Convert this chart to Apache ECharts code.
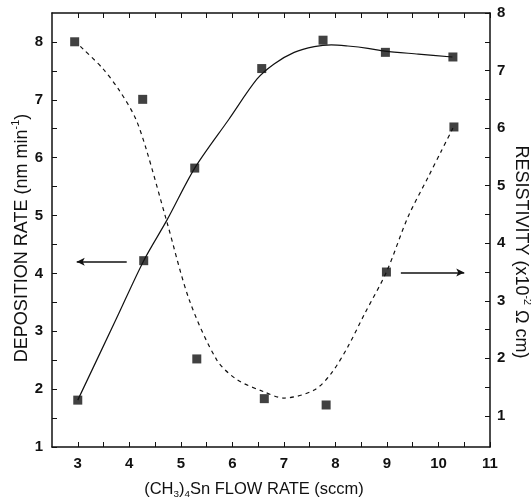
<!DOCTYPE html>
<html>
<head>
<meta charset="utf-8">
<script src="https://cdn.jsdelivr.net/npm/echarts@6/dist/echarts.min.js"></script>
<style>
  html, body { margin: 0; padding: 0; background: #fff; }
  #main { width: 531px; height: 500px; }
</style>
</head>
<body>
<div id="main"></div>
<script>
// measured points
let flowRate = [3.0, 4.28, 5.27, 6.57, 7.76, 8.97, 10.28]
let depositionRate = [1.81, 4.22, 5.82, 7.54, 8.03, 7.82, 7.74]

let flowRateRes = [2.94, 4.26, 5.31, 6.62, 7.82, 8.99, 10.3]
let resistivity = [7.5, 6.5, 1.99, 1.3, 1.19, 3.5, 6.02]

// fitted curves
let depFitX = [3.0, 3.75, 4.28, 4.73, 5.27, 5.93, 6.48, 6.81, 7.2, 7.59, 7.92, 8.24, 8.63, 8.96, 9.61, 10.27]
let depFitY = [1.81, 3.22, 4.22, 4.92, 5.82, 6.66, 7.36, 7.62, 7.82, 7.92, 7.95, 7.93, 7.89, 7.84, 7.79, 7.74]

let resFitX = [3.05, 3.49, 3.81, 4.11, 4.32, 4.73, 5.17, 5.7, 6.09, 6.61, 7.0, 7.59, 7.92, 8.24, 8.57, 8.99, 9.41, 9.8, 10.06, 10.28]
let resFitY = [7.42, 7.03, 6.65, 6.19, 5.66, 4.37, 3.0, 1.97, 1.63, 1.42, 1.31, 1.45, 1.74, 2.2, 2.78, 3.5, 4.46, 5.15, 5.61, 6.0]

// ticks
let xLabels = [3, 4, 5, 6, 7, 8, 9, 10, 11]
let xTicks = [3, 3.5, 4, 4.5, 5, 5.5, 6, 6.5, 7, 7.5, 8, 8.5, 9, 9.5, 10, 10.5, 11]
let yLabels = [1, 2, 3, 4, 5, 6, 7, 8]
let yTicks = [1, 1.5, 2, 2.5, 3, 3.5, 4, 4.5, 5, 5.5, 6, 6.5, 7, 7.5, 8]

const zip = (xs, ys) => xs.map((x, i) => [x, ys[i]])

let myChart = echarts.init(document.getElementById('main'))

const ink = '#111'
const font = 'Liberation Sans'
const rich = (size) => ({
    a: { fontSize: size, fontFamily: font, color: ink, lineHeight: size + 4 },
    s: { fontSize: size * 0.6, fontFamily: font, color: ink, lineHeight: size * 0.6, verticalAlign: 'top' },
    b: { fontSize: size * 0.6, fontFamily: font, color: ink, lineHeight: size * 0.6, verticalAlign: 'bottom' }
})
const tickLabel = { color: ink, fontSize: 15, fontWeight: 'bold', fontFamily: "'Liberation Sans Narrow', 'Liberation Sans', sans-serif" }

function axis(position, min, max, ticks, labels, margin) {
    return {
        type: 'value', position: position, min: min, max: max,
        axisLine: { show: true, lineStyle: { color: ink, width: 1.5 } },
        axisTick: { show: true, inside: true, length: 5, customValues: ticks, lineStyle: { color: ink, width: 1 } },
        axisLabel: labels ? Object.assign({ customValues: labels, margin: margin }, tickLabel) : { show: false },
        splitLine: { show: false }
    }
}

let xs = [
    axis('bottom', 2.5, 11, xTicks, xLabels, 9),
    axis('top', 2.5, 11, xTicks)
]
xs[0].name = '{a|(CH}{b|3}{a|)}{b|4}{a|Sn FLOW RATE (sccm)}'
xs[0].nameLocation = 'middle'
xs[0].nameGap = 32
xs[0].nameTextStyle = { rich: rich(16.5), padding: [0, 34, 0, 0] }

let ys = [
    axis('left', 1, 8.5, yTicks, yLabels, 9),
    axis('right', 0.46, 8, yTicks, yLabels, 7)
]
ys[0].name = '{a|DEPOSITION RATE (nm min}{s|-1}{a|)}'
ys[0].nameLocation = 'middle'
ys[0].nameGap = 19
ys[0].nameRotate = 90
ys[0].nameMoveOverlap = false
ys[0].nameTextStyle = { rich: rich(18), padding: [0, 16, 0, 0] }
ys[1].name = '{a|RESISTIVITY (x10}{s|-2}{a| \u03a9 cm)}'
ys[1].nameLocation = 'middle'
ys[1].nameGap = 20
ys[1].nameRotate = -90
ys[1].nameMoveOverlap = false
ys[1].nameTextStyle = { rich: rich(18), padding: [0, 0, 0, 44] }

let arrowLine = { color: ink, width: 1.5, type: 'solid' }

let option = {
    animation: false,
    backgroundColor: '#fff',
    grid: { left: 52, right: 41, top: 13, height: 434, outerBoundsMode: 'none', containLabel: false },
    xAxis: xs,
    yAxis: ys,
    series: [
        {
            type: 'line', xAxisIndex: 0, yAxisIndex: 0,
            data: zip(depFitX, depFitY), smooth: 0.3, showSymbol: false,
            lineStyle: { color: ink, width: 1.2 },
            markLine: {
                silent: true, symbol: ['none', 'arrow'], symbolSize: [6, 8],
                label: { show: false }, lineStyle: arrowLine,
                data: [[{ coord: [3.95, 4.2] }, { coord: [2.98, 4.2] }]]
            }
        },
        {
            type: 'line', xAxisIndex: 0, yAxisIndex: 1,
            data: zip(resFitX, resFitY), smooth: 0.3, showSymbol: false,
            lineStyle: { color: ink, width: 1.2, type: [4, 4] },
            markLine: {
                silent: true, symbol: ['none', 'arrow'], symbolSize: [6, 8],
                label: { show: false }, lineStyle: arrowLine,
                data: [[{ coord: [9.27, 3.49] }, { coord: [10.5, 3.49] }]]
            }
        },
        {
            type: 'scatter', xAxisIndex: 0, yAxisIndex: 0,
            data: zip(flowRate, depositionRate),
            symbol: 'rect', symbolSize: 9, itemStyle: { color: ink }
        },
        {
            type: 'scatter', xAxisIndex: 0, yAxisIndex: 1,
            data: zip(flowRateRes, resistivity),
            symbol: 'rect', symbolSize: 9, itemStyle: { color: ink }
        }
    ]
}

myChart.setOption(option)
</script>
</body>
</html>
